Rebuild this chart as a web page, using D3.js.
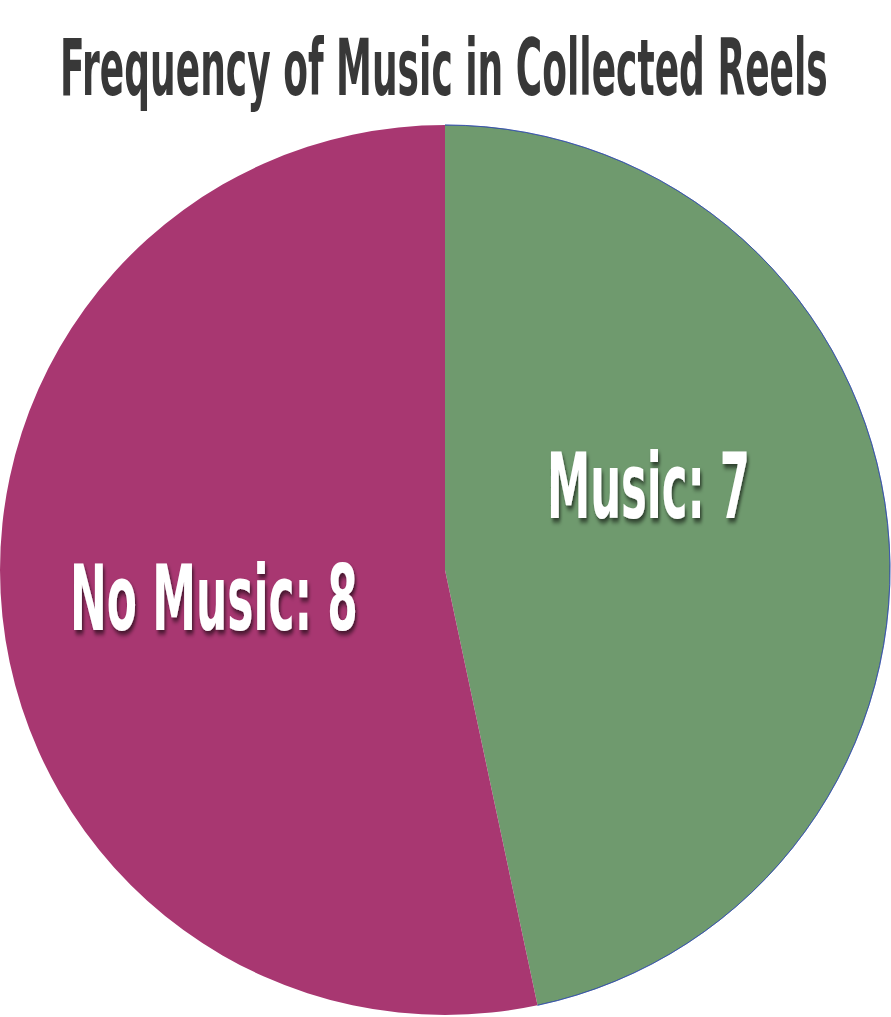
<!DOCTYPE html>
<html><head><meta charset="utf-8">
<script src="https://cdn.jsdelivr.net/npm/d3@7"></script>
<style>html,body{margin:0;padding:0;background:#fff;overflow:hidden}</style>
</head><body>
<svg id="chart" width="891" height="1017"></svg>
<script>
const categories = ["Music", "No Music"];
const values = [7, 8];
const colors = ["#6F9A6E", "#A83771"];
const title = "Frequency of Music in Collected Reels";

const W = 891, H = 1017;
const cx = 445, cy = 570, R = 445;
const svg = d3.select("#chart");
const defs = svg.append("defs");
const f = defs.append("filter").attr("id","shadow").attr("x","-10%").attr("y","-10%").attr("width","130%").attr("height","130%");
f.append("feDropShadow").attr("dx",3).attr("dy",4).attr("stdDeviation",2.5).attr("flood-color","#000").attr("flood-opacity",0.6);

const pie = d3.pie().sort(null).value(d => d)(values);
const arc = d3.arc().innerRadius(0).outerRadius(R);
const g = svg.append("g").attr("transform",`translate(${cx},${cy})`);
g.selectAll("path.slice").data(pie).join("path").attr("class","slice")
  .attr("d", arc).attr("fill", (d,i) => colors[i]);
// faint outer edge on the green slice
g.append("path").attr("d", d3.arc().innerRadius(R).outerRadius(R)(pie[0]))
  .attr("fill","none").attr("stroke","#2a45a8").attr("stroke-width",0.8).attr("opacity",0.8);

const font = "'Liberation Sans Narrow','DejaVu Sans Condensed',sans-serif";
function fitText(sel, targetW, anchorX) {
  const node = sel.node();
  const w = node.getComputedTextLength();
  const s = targetW / w;
  sel.attr("transform", `translate(${anchorX},0) scale(${s},1)`).attr("x", 0);
}
const t = svg.append("text").text(title)
  .attr("y", 95).attr("font-family", font).attr("font-weight","bold")
  .attr("font-size", 78).attr("fill","#383838");
fitText(t, 768, 60);

// label positions (centroids of pie labels)
const labelPos = [{x:547, y:518, w:203}, {x:70, y:630, w:288}];
pie.forEach((d,i) => {
  const lt = svg.append("text").text(`${categories[i]}: ${values[i]}`)
    .attr("y", labelPos[i].y).attr("font-family", font).attr("font-weight","bold")
    .attr("font-size", 90).attr("fill","#fff").attr("filter","url(#shadow)");
  fitText(lt, labelPos[i].w, labelPos[i].x);
});
</script>
</body></html>
